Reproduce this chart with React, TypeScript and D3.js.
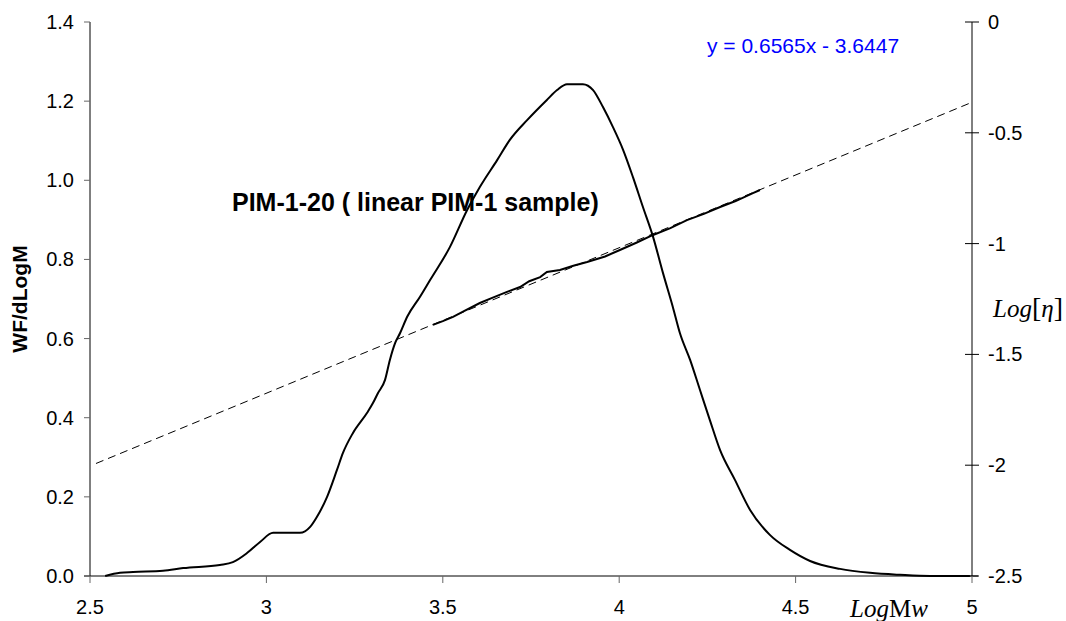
import React from "react";
import * as d3 from "d3";

// GPC distribution curve (LogMw vs WF/dLogM)
const gpcLogM = [2.543, 2.585, 2.622, 2.707, 2.764, 2.868, 2.905, 2.945, 2.982, 3.019, 3.095, 3.124, 3.143, 3.172, 3.2, 3.217, 3.245, 3.285, 3.302, 3.316, 3.336, 3.35, 3.365, 3.379, 3.399, 3.435, 3.464, 3.52, 3.569, 3.605, 3.654, 3.69, 3.739, 3.795, 3.824, 3.852, 3.897, 3.926, 3.954, 3.982, 4.011, 4.039, 4.067, 4.096, 4.124, 4.152, 4.172, 4.201, 4.229, 4.257, 4.286, 4.328, 4.371, 4.427, 4.484, 4.541, 4.626, 4.711, 4.796, 4.881, 4.994];
const gpcValue = [0.0, 0.008, 0.01, 0.013, 0.02, 0.028, 0.035, 0.058, 0.086, 0.109, 0.109, 0.124, 0.149, 0.2, 0.268, 0.311, 0.361, 0.412, 0.437, 0.462, 0.495, 0.546, 0.589, 0.614, 0.655, 0.705, 0.748, 0.831, 0.925, 0.983, 1.051, 1.102, 1.152, 1.203, 1.228, 1.243, 1.243, 1.228, 1.185, 1.135, 1.077, 1.008, 0.933, 0.857, 0.766, 0.68, 0.614, 0.546, 0.47, 0.394, 0.318, 0.243, 0.167, 0.104, 0.066, 0.038, 0.018, 0.008, 0.003, 0.0, 0.0];

// Intrinsic viscosity data (LogMw vs Log[eta])
const etaLogM = [3.472, 3.5, 3.529, 3.56, 3.605, 3.64, 3.682, 3.719, 3.745, 3.776, 3.795, 3.832, 3.87, 3.909, 3.96, 4.002, 4.05, 4.096, 4.145, 4.192, 4.24, 4.286, 4.33, 4.379, 4.399];
const etaValue = [-1.367, -1.35, -1.331, -1.305, -1.268, -1.245, -1.218, -1.196, -1.17, -1.151, -1.128, -1.119, -1.1, -1.083, -1.058, -1.029, -0.995, -0.961, -0.93, -0.894, -0.866, -0.835, -0.808, -0.772, -0.758];

// Linear trendline
const slope = 0.6565;
const intercept = -3.6447;
const trendRange = [2.517, 5.0];

const xTicks = [2.5, 3, 3.5, 4, 4.5, 5];
const xTickLabels = ["2.5", "3", "3.5", "4", "4.5", "5"];
const yLeftTicks = [0, 0.2, 0.4, 0.6, 0.8, 1.0, 1.2, 1.4];
const yRightTicks = [0, -0.5, -1, -1.5, -2, -2.5];
const yRightLabels = ["0", "-0.5", "-1", "-1.5", "-2", "-2.5"];

const title = "PIM-1-20 ( linear PIM-1 sample)";
const equation = "y = 0.6565x - 3.6447";

export default function App() {
  const x = d3.scaleLinear().domain([2.5, 5]).range([90, 972]);
  const yL = d3.scaleLinear().domain([0, 1.4]).range([576, 22]);
  const yR = d3.scaleLinear().domain([-2.5, 0]).range([576, 22]);

  const gpcPts: [number, number][] = gpcLogM.map((m, i) => [m, gpcValue[i]]);
  const etaPts: [number, number][] = etaLogM.map((m, i) => [m, etaValue[i]]);

  const gpcLine = d3
    .line<[number, number]>()
    .x((d) => x(d[0]))
    .y((d) => yL(d[1]))
    .curve(d3.curveMonotoneX);
  const etaLine = d3
    .line<[number, number]>()
    .x((d) => x(d[0]))
    .y((d) => yR(d[1]));
  const trendPts: [number, number][] = trendRange.map((m) => [m, slope * m + intercept]);

  const sans = "'Liberation Sans', Arial, sans-serif";
  const serif = "'Liberation Serif', 'Times New Roman', serif";

  return (
    <svg
      width={1066}
      height={621}
      style={{ position: "absolute", left: 0, top: 0, background: "#fff" }}
    >
      <rect x={0} y={0} width={1066} height={621} fill="#fff" />
      {/* axes */}
      <line x1={90} y1={22} x2={90} y2={576} stroke="#000" strokeWidth={1} />
      <line x1={972} y1={22} x2={972} y2={576} stroke="#000" strokeWidth={1} />
      <line x1={84} y1={576} x2={978} y2={576} stroke="#000" strokeWidth={1} />

      {/* left ticks */}
      {yLeftTicks.map((t) => (
        <g key={"l" + t}>
          <line x1={84} x2={90} y1={yL(t)} y2={yL(t)} stroke="#666" />
          <text
            x={74}
            y={yL(t) + 7}
            textAnchor="end"
            fontFamily={sans}
            fontSize={20}
            fill="#000"
          >
            {t.toFixed(1)}
          </text>
        </g>
      ))}

      {/* right ticks */}
      {yRightTicks.map((t, i) => (
        <g key={"r" + t}>
          <line x1={965} x2={979} y1={yR(t)} y2={yR(t)} stroke="#000" />
          <text
            x={988}
            y={yR(t) + 7}
            textAnchor="start"
            fontFamily={sans}
            fontSize={20}
            fill="#000"
          >
            {yRightLabels[i]}
          </text>
        </g>
      ))}

      {/* bottom ticks */}
      {xTicks.map((t, i) => (
        <g key={"b" + t}>
          <line x1={x(t)} x2={x(t)} y1={576} y2={583} stroke="#666" />
          <text
            x={x(t)}
            y={614}
            textAnchor="middle"
            fontFamily={sans}
            fontSize={20}
            fill="#000"
          >
            {xTickLabels[i]}
          </text>
        </g>
      ))}

      {/* trendline */}
      <path
        d={etaLine(trendPts) || ""}
        fill="none"
        stroke="#000"
        strokeWidth={1}
        strokeDasharray="8,5"
      />
      {/* eta data */}
      <path d={etaLine(etaPts) || ""} fill="none" stroke="#000" strokeWidth={2} />
      {/* gpc curve */}
      <path d={gpcLine(gpcPts) || ""} fill="none" stroke="#000" strokeWidth={2} />

      {/* texts */}
      <text x={232} y={211} fontFamily={sans} fontWeight="bold" fontSize={25} fill="#000">
        {title}
      </text>
      <text x={707} y={53} fontFamily={sans} fontSize={21} fill="#0000FF">
        {equation}
      </text>
      <text
        transform="translate(27,299) rotate(-90)"
        textAnchor="middle"
        fontFamily={sans}
        fontWeight="bold"
        fontSize={21}
        fill="#000"
      >
        WF/dLogM
      </text>
      <text x={993} y={317} fontFamily={serif} fontSize={25} fill="#000">
        <tspan fontStyle="italic">Log</tspan>
        <tspan fontSize={28}>[</tspan>
        <tspan fontStyle="italic">η</tspan>
        <tspan fontSize={28}>]</tspan>
      </text>
      <text x={850} y={617} fontFamily={serif} fontSize={25} fill="#000">
        <tspan fontStyle="italic">Log</tspan>
        <tspan>M</tspan>
        <tspan fontStyle="italic">w</tspan>
      </text>
    </svg>
  );
}
